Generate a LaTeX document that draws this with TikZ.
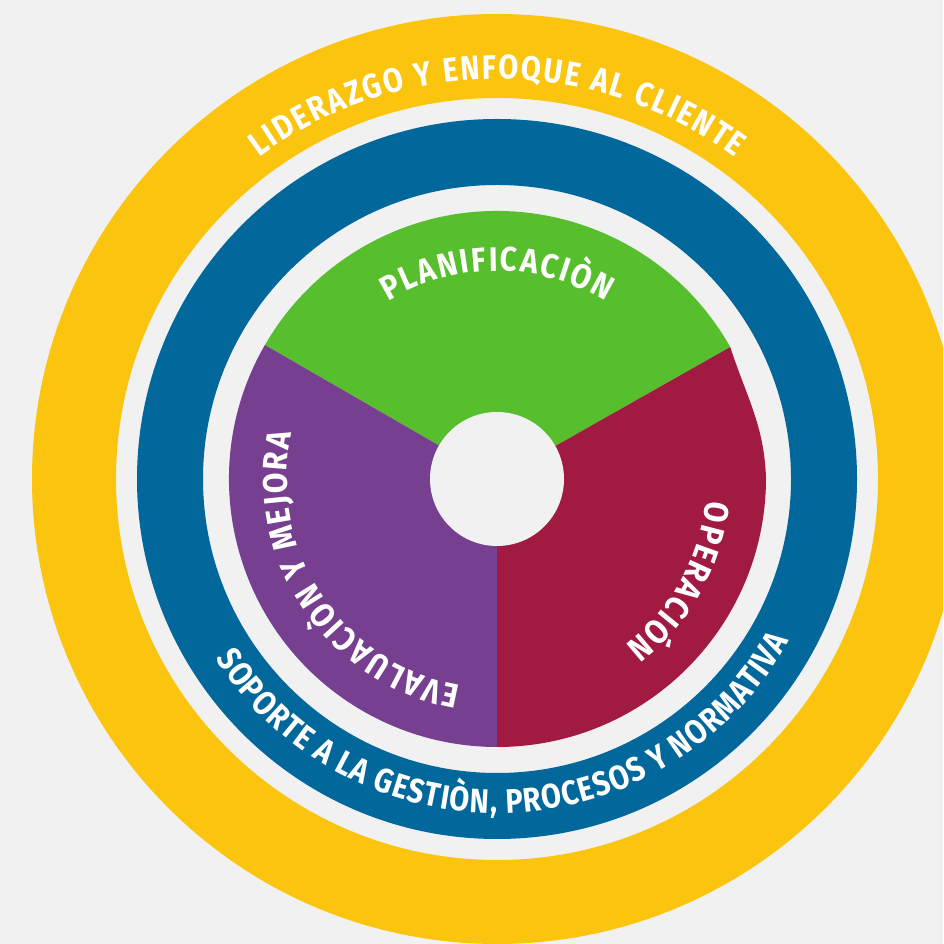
\documentclass[tikz,border=0pt]{standalone}
\usepackage{fontspec}
\newfontfamily\ringfont{Fira Sans}[FakeStretch=0.85]
\newfontfamily\secfont{Fira Sans}[FakeStretch=0.88]
\usetikzlibrary{decorations.text}
\definecolor{bgc}{HTML}{F1F1F1}
\definecolor{ringyellow}{HTML}{FBC40F}
\definecolor{ringblue}{HTML}{02689C}
\definecolor{secgreen}{HTML}{57BF2D}
\definecolor{secred}{HTML}{A11A41}
\definecolor{secpurple}{HTML}{773F8F}
\newcommand{\bigtxt}{\ringfont\bfseries\fontsize{34}{36}\selectfont}
\newcommand{\smalltxt}{\secfont\bfseries\fontsize{34}{36}\selectfont}
\tikzset{
  arctext/.style={decorate, decoration={text along path, text={#1}, text align=fit to path, text color=white}}
}
\begin{document}
\begin{tikzpicture}[x=1pt,y=1pt]
\useasboundingbox (0,0) rectangle (943,944);
\fill[bgc] (0,0) rectangle (943,944);
\clip (0,0) rectangle (943,944);
\coordinate (C) at (497,465);
% rings
\fill[ringyellow, even odd rule] (C) circle[radius=465pt] (C) circle[radius=381pt];
\fill[ringblue, even odd rule] (C) circle[radius=360pt] (C) circle[radius=294pt];
% sectors
\fill[secgreen] (C) -- ++(29.5:268pt) arc[start angle=29.5, end angle=150, radius=268pt] -- cycle;
\fill[secpurple] (C) -- ++(150:268pt) arc[start angle=150, end angle=270, radius=268pt] -- cycle;
\coordinate (GR) at ([shift={(29.5:268pt)}]C);
\fill[secred] (C) -- ++(270:268pt) arc[start angle=270, end angle=360, radius=269pt] to[out=92, in=-72] (GR) -- cycle;
\fill[bgc] (C) circle[radius=67pt];
% texts
\path[arctext={|\bigtxt|LIDERAZGO Y ENFOQUE AL CLIENTE}] ([shift={(126.5:400pt)}]C) arc[start angle=126.5, end angle=53.5, radius=400pt];
\path[arctext={|\bigtxt|SOPORTE A LA GESTIÒN, PROCESOS Y NORMATIVA}] ([shift={(212.5:334pt)}]C) arc[start angle=212.5, end angle=331, radius=334pt];
\path[arctext={|\smalltxt|PLANIFICACIÒN}] ([shift={(121.5:208pt)}]C) arc[start angle=121.5, end angle=58.5, radius=208pt];
\path[arctext={|\smalltxt|OPERACIÓN}] ([shift={(-6:210pt)}]C) arc[start angle=-6, end angle=-52.5, radius=210pt];
\path[arctext={|\smalltxt|EVALUACIÒN Y MEJORA}] ([shift={(260:210pt)}]C) arc[start angle=260, end angle=167.5, radius=210pt];
\end{tikzpicture}
\end{document}
